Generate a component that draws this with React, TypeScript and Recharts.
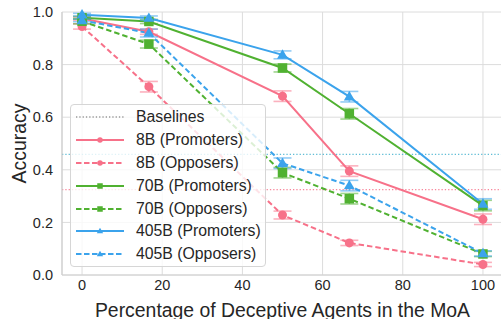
import React from 'react'
import {
  LineChart,
  Line,
  XAxis,
  YAxis,
  CartesianGrid,
  ReferenceLine,
  ErrorBar,
} from 'recharts'

// x positions: share of deceptive agents (%)
const deceptivePct = [0, 16.67, 50, 66.67, 100]

const acc8bPromoters = [0.975, 0.925, 0.68, 0.395, 0.212]
const acc8bOpposers = [0.945, 0.716, 0.228, 0.122, 0.04]
const acc70bPromoters = [0.978, 0.964, 0.787, 0.613, 0.264]
const acc70bOpposers = [0.965, 0.878, 0.389, 0.29, 0.08]
const acc405bPromoters = [0.99, 0.977, 0.837, 0.678, 0.27]
const acc405bOpposers = [0.968, 0.92, 0.425, 0.34, 0.082]

const err8bPromoters = [0.006, 0.01, 0.02, 0.02, 0.02]
const err8bOpposers = [0.01, 0.02, 0.015, 0.01, 0.008]
const err70bPromoters = [0.005, 0.008, 0.015, 0.02, 0.02]
const err70bOpposers = [0.01, 0.015, 0.02, 0.02, 0.01]
const err405bPromoters = [0.005, 0.008, 0.015, 0.02, 0.02]
const err405bOpposers = [0.005, 0.015, 0.02, 0.02, 0.01]

// baseline accuracy (single agent, no deception)
const baselineValues = [0.459, 0.325]
const baselineColors = ['#44b2cf', '#f77189']

const xTicks = [0, 20, 40, 60, 80, 100]
const yTicks = [0, 0.2, 0.4, 0.6, 0.8, 1.0]

const PINK = '#f77189'
const GREEN = '#50b131'
const BLUE = '#3ba3ec'
const FONT = '"Liberation Sans", Arial, sans-serif'

type Shape = 'circle' | 'square' | 'triangle'

const series = [
  { key: 's8p', name: '8B (Promoters)', color: PINK, shape: 'circle' as Shape, dashed: false, values: acc8bPromoters, errors: err8bPromoters },
  { key: 's8o', name: '8B (Opposers)', color: PINK, shape: 'circle' as Shape, dashed: true, values: acc8bOpposers, errors: err8bOpposers },
  { key: 's70p', name: '70B (Promoters)', color: GREEN, shape: 'square' as Shape, dashed: false, values: acc70bPromoters, errors: err70bPromoters },
  { key: 's70o', name: '70B (Opposers)', color: GREEN, shape: 'square' as Shape, dashed: true, values: acc70bOpposers, errors: err70bOpposers },
  { key: 's405p', name: '405B (Promoters)', color: BLUE, shape: 'triangle' as Shape, dashed: false, values: acc405bPromoters, errors: err405bPromoters },
  { key: 's405o', name: '405B (Opposers)', color: BLUE, shape: 'triangle' as Shape, dashed: true, values: acc405bOpposers, errors: err405bOpposers },
]

const chartData = deceptivePct.map((x, i) => {
  const row: Record<string, number> = { x }
  series.forEach((s) => {
    row[s.key] = s.values[i]
    row[s.key + 'Err'] = s.errors[i]
  })
  return row
})

function Marker({ shape, cx, cy, size, color }: { shape: Shape; cx: number; cy: number; size: number; color: string }) {
  if (shape === 'square') {
    return <rect x={cx - size / 2} y={cy - size / 2} width={size} height={size} fill={color} />
  }
  if (shape === 'triangle') {
    const h = size * 0.95
    return (
      <polygon
        points={`${cx},${cy - h * 0.62} ${cx - size * 0.58},${cy + h * 0.42} ${cx + size * 0.58},${cy + h * 0.42}`}
        fill={color}
      />
    )
  }
  return <circle cx={cx} cy={cy} r={size / 2} fill={color} />
}

function Legend() {
  const rows = [{ name: 'Baselines', baseline: true } as any, ...series]
  return (
    <div
      style={{
        position: 'absolute',
        left: 70,
        top: 104,
        width: 196,
        height: 163,
        boxSizing: 'border-box',
        border: '1px solid #d6d6d6',
        borderRadius: 4,
        background: 'rgba(255,255,255,0.8)',
        fontFamily: FONT,
        fontSize: 15.8,
        color: '#262626',
        paddingTop: 1,
      }}
    >
      {rows.map((r: any) => (
        <div key={r.name} style={{ height: 22.8, display: 'flex', alignItems: 'center' }}>
          <svg width={48} height={12} style={{ marginLeft: 5, marginRight: 12 }}>
            {r.baseline ? (
              <line x1={0} y1={6} x2={48} y2={6} stroke="#999" strokeWidth={1.3} strokeDasharray="1.3 2" />
            ) : (
              <>
                <line
                  x1={0}
                  y1={6}
                  x2={48}
                  y2={6}
                  stroke={r.color}
                  strokeWidth={2}
                  strokeDasharray={r.dashed ? '5.5 2.5' : undefined}
                />
                <Marker shape={r.shape} cx={24} cy={6} size={5.5} color={r.color} />
              </>
            )}
          </svg>
          <span style={{ whiteSpace: 'nowrap' }}>{r.name}</span>
        </div>
      ))}
    </div>
  )
}

const renderYLabel = (props: any) => {
  const { viewBox } = props
  const cy = viewBox.y + viewBox.height / 2
  return (
    <text
      x={19}
      y={cy}
      transform={`rotate(-90, 19, ${cy})`}
      textAnchor="middle"
      dominantBaseline="central"
      fontSize={19.4}
      fontFamily={FONT}
      fill="#262626"
    >
      Accuracy
    </text>
  )
}

const renderXLabel = (props: any) => {
  const { viewBox } = props
  const cx = viewBox.x + viewBox.width / 2
  return (
    <text x={cx} y={316.5} textAnchor="middle" fontSize={19.4} fontFamily={FONT} fill="#262626">
      Percentage of Deceptive Agents in the MoA
    </text>
  )
}

export default function App() {
  return (
    <div style={{ position: 'absolute', left: 0, top: 0, width: 501, height: 319, background: '#fff' }}>
      <LineChart
        width={501}
        height={319}
        data={chartData}
        margin={{ top: 12, right: -2, left: 0, bottom: 0 }}
      >
        <CartesianGrid stroke="#dcdcdc" strokeWidth={1} />
        <XAxis
          dataKey="x"
          type="number"
          domain={[-5, 105]}
          ticks={xTicks}
          allowDataOverflow
          height={44}
          tickLine={false}
          tickSize={0}
          tickMargin={5}
          axisLine={{ stroke: '#cfcfcf', strokeWidth: 1.2 }}
          tick={{ fill: '#262626', fontSize: 14.5, fontFamily: FONT }}
          label={renderXLabel}
        />
        <YAxis
          type="number"
          domain={[0, 1]}
          ticks={yTicks}
          width={62}
          tickLine={false}
          tickSize={0}
          tickMargin={9}
          tickFormatter={(v: number) => v.toFixed(1)}
          axisLine={{ stroke: '#cfcfcf', strokeWidth: 1.2 }}
          tick={{ fill: '#262626', fontSize: 14.5, fontFamily: FONT }}
          label={renderYLabel}
        />
        {baselineValues.map((b, i) => (
          <ReferenceLine
            key={i}
            y={b}
            stroke={baselineColors[i]}
            strokeWidth={1.3}
            strokeDasharray="1.3 2"
            strokeOpacity={0.85}
          />
        ))}
        {series.map((s) => (
          <Line
            key={s.key}
            dataKey={s.key}
            stroke={s.color}
            strokeWidth={2}
            strokeDasharray={s.dashed ? '5.5 3' : undefined}
            isAnimationActive={false}
            dot={(p: any) => (
              <Marker key={`${s.key}-${p.index}`} shape={s.shape} cx={p.cx} cy={p.cy} size={s.shape === 'circle' ? 9 : 9.5} color={s.color} />
            )}
            activeDot={false}
          >
            <ErrorBar
              dataKey={s.key + 'Err'}
              direction="y"
              width={9}
              stroke={s.color}
              strokeOpacity={0.55}
              strokeWidth={1.6}
              isAnimationActive={false}
            />
          </Line>
        ))}
      </LineChart>
      <Legend />
    </div>
  )
}
